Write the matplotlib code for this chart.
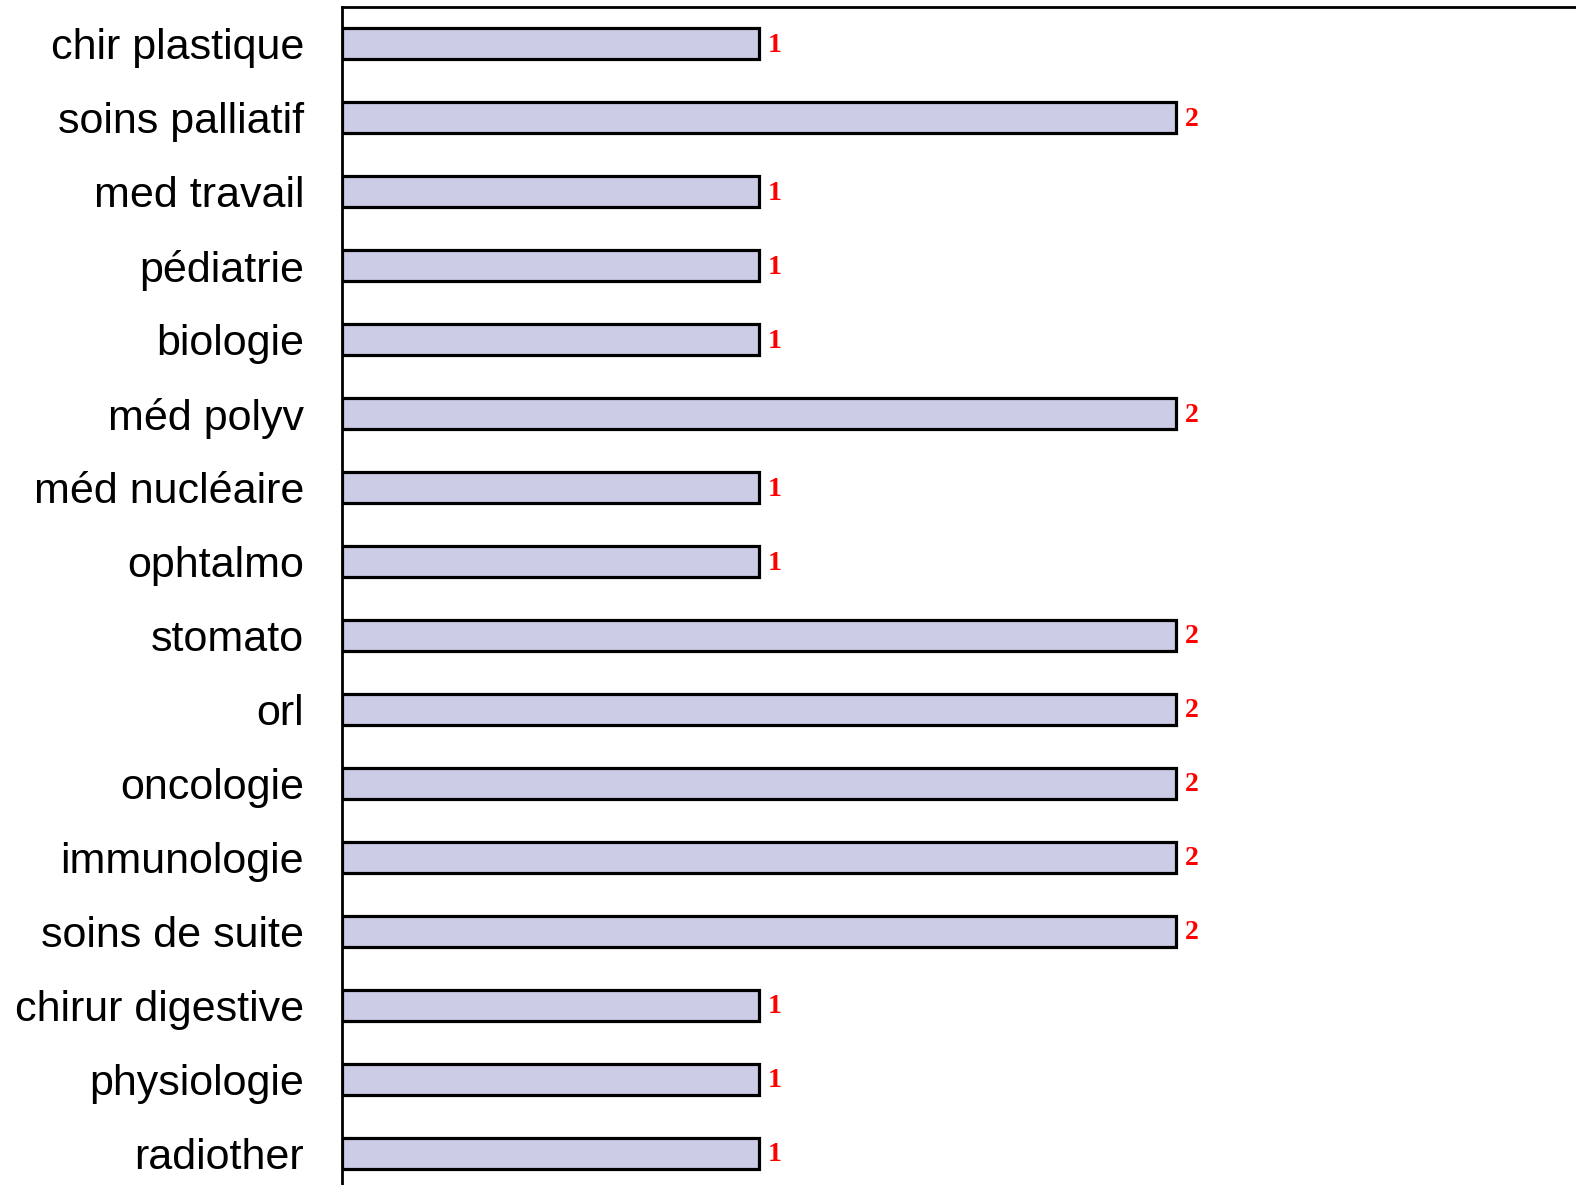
import matplotlib
matplotlib.use('Agg')
import matplotlib.pyplot as plt
import numpy as np

# services and number of responses per service (top to bottom)
services = ['chir plastique', 'soins palliatif', 'med travail', 'pédiatrie',
            'biologie', 'méd polyv', 'méd nucléaire', 'ophtalmo', 'stomato',
            'orl', 'oncologie', 'immunologie', 'soins de suite',
            'chirur digestive', 'physiologie', 'radiother']
counts = [1, 2, 1, 1, 1, 2, 1, 1, 2, 2, 2, 2, 2, 1, 1, 1]

BAR = '#CCCCE6'
W, H = 1576, 1185

fig = plt.figure(figsize=(W / 100, H / 100), dpi=100)
ax = fig.add_axes([341.5 / W, 1 - 1190 / H, 1 - 341.5 / W, 1183 / H])

y = np.arange(len(services))
ax.barh(y, counts, height=0.42, color=BAR, edgecolor='black', linewidth=2.3)
for yi, c in zip(y, counts):
    ax.text(c + 0.022, yi + 0.02, str(c), color='red', fontsize=20,
            fontweight='bold', family='Liberation Serif', va='center',
            ha='left')

ax.set_ylim(len(services) - 0.5, -0.5)
ax.set_xlim(0, 2.96)
ax.set_yticks(y)
ax.set_yticklabels(services, family='Liberation Sans', fontsize=31)
ax.tick_params(axis='y', length=0, pad=27)
ax.set_xticks([])
ax.spines['right'].set_visible(False)
for s in ('left', 'top', 'bottom'):
    ax.spines[s].set_linewidth(2)

fig.savefig('out.png', dpi=100)
